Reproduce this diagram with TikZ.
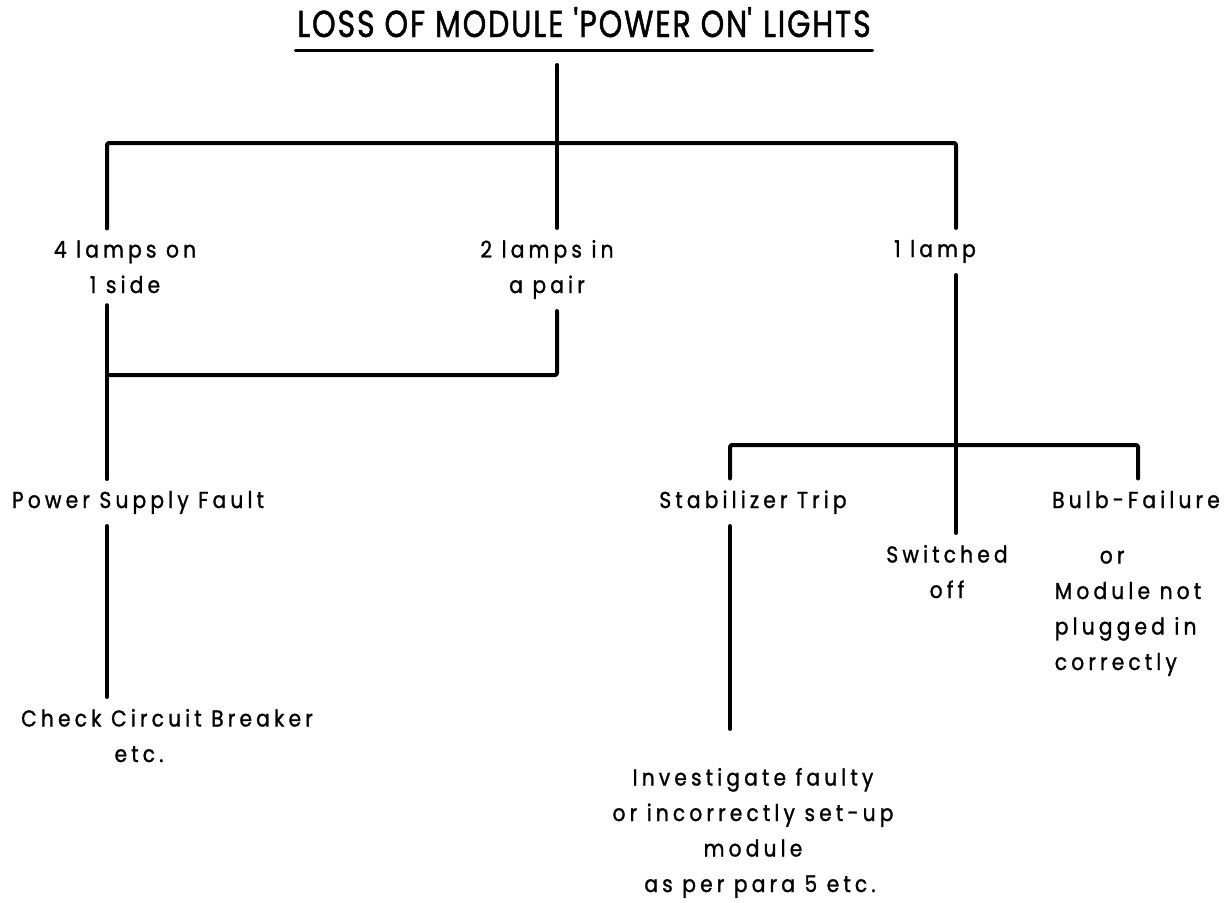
\documentclass[tikz,border=0pt]{standalone}
\usepackage{fontspec}
\newfontfamily\lblfont[LetterSpace=18,FakeStretch=0.88,FakeBold=1.2]{Poppins}
\newfontfamily\ttlfont[LetterSpace=5,FakeStretch=0.8,FakeBold=1.2]{Poppins}
\usetikzlibrary{calc}
\begin{document}
\begin{tikzpicture}[x=1pt,y=-1pt,line width=4pt,line cap=round,line join=round,
  lbl/.style={font=\lblfont\fontsize{23}{35.5}\selectfont,inner sep=0pt,outer ysep=12pt,align=center,anchor=base},
  ttl/.style={font=\ttlfont\fontsize{37.5}{42}\selectfont,inner sep=0pt,anchor=base},
  uline/.style={line width=3pt}]
\useasboundingbox (0,0) rectangle (1230,902);
% junctions
\coordinate (cTop) at (557,65);
\coordinate (cB) at (557,143);
\coordinate (cA) at (107,143);
\coordinate (cC) at (956,143);
\coordinate (jL) at (107,375);
\coordinate (jR) at (956,445);
\coordinate (cS) at (730,445);
\coordinate (cBu) at (1138,445);
% texts (base anchor = baseline of the last line)
\node[ttl] (title) at (584,37) {LOSS OF MODULE \textquotesingle POWER ON\textquotesingle{} LIGHTS};
\node[lbl] (n4) at (125,293) {4 lamps on\\1 side};
\node[lbl] (n2) at (547,293) {2 lamps in\\a pair};
\node[lbl] (n1) at (935,257) {1 lamp};
\node[lbl] (psf) at (138,508) {Power Supply Fault};
\node[lbl] (ccb) at (167,762) {Check Circuit Breaker\\etc.\hspace*{56pt}};
\node[lbl] (stab) at (753,508) {Stabilizer Trip};
\node[lbl] (bulb) at (1136,508) {Bulb-Failure};
\node[lbl,align=left] (bulb2) at (1128,670) {\hspace*{45pt}or\\Module not\\plugged in\\correctly};
\node[lbl] (sw) at (947,598) {Switched\\off};
\node[lbl] (inv) at (753,892) {Investigate faulty\\or incorrectly set-up\\module\hspace*{36pt}\\\hspace*{14pt}as per para 5 etc.};
% underline
\draw[uline] ([yshift=-13pt]title.base west) -- ([yshift=-13pt]title.base east);
% connectors
\draw (cTop) -- (cB);
\draw[rounded corners=2pt] (n4.north -| cA) -- (cA) -- (cC) -- (n1.north -| cC);
\draw (cB) -- (n2.north -| cB);
\draw (n4.south -| cA) -- (psf.north -| cA);
\draw[rounded corners=2pt] (n2.south -| cB) -- (jL -| cB) -- (jL);
\draw (psf.south -| cA) -- (ccb.north -| cA);
\draw (n1.south -| cC) -- (sw.north -| cC);
\draw[rounded corners=2pt] (stab.north -| cS) -- (cS) -- (cBu) -- (bulb.north -| cBu);
\draw (stab.south -| cS) -- ([yshift=27pt]inv.north -| cS);
\end{tikzpicture}
\end{document}
